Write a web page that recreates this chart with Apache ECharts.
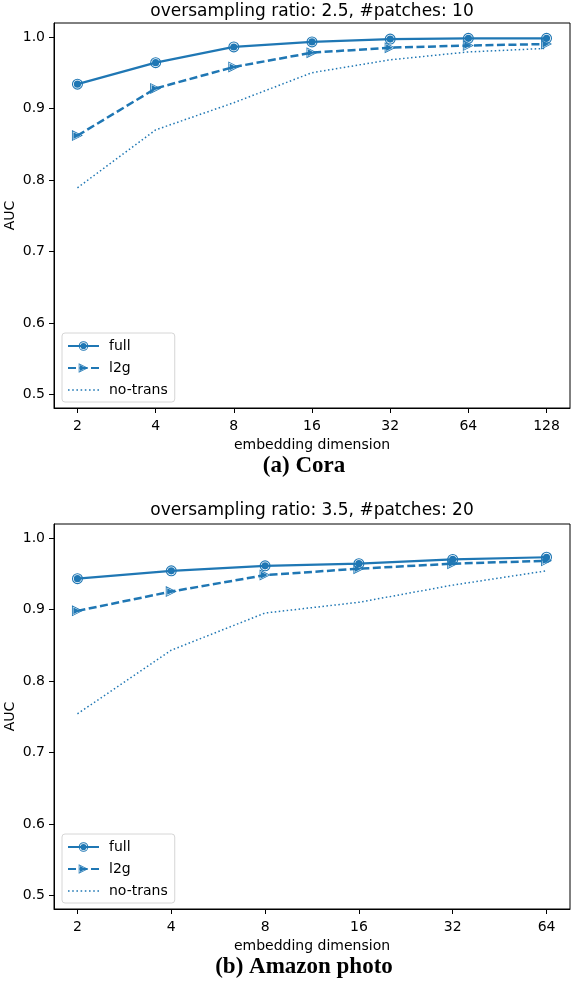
<!DOCTYPE html>
<html>
<head>
<meta charset="utf-8">
<script src="https://cdn.jsdelivr.net/npm/echarts@6/dist/echarts.min.js"></script>
<style>
    html, body {margin: 0; padding: 0; background: #fff;}
    #main {width: 574px; height: 982px;}
</style>
</head>
<body>
<div id="main"></div>
<script>
//数据
var dimsCora = ['2', '4', '8', '16', '32', '64', '128'];
var coraFull = [0.934, 0.964, 0.986, 0.993, 0.997, 0.998, 0.998];
var coraL2g = [0.862, 0.928, 0.958, 0.978, 0.985, 0.988, 0.990];
var coraNoTrans = [0.789, 0.870, 0.908, 0.950, 0.968, 0.979, 0.984];

var dimsPhoto = ['2', '4', '8', '16', '32', '64'];
var photoFull = [0.943, 0.954, 0.961, 0.964, 0.970, 0.973];
var photoL2g = [0.898, 0.925, 0.948, 0.957, 0.964, 0.968];
var photoNoTrans = [0.754, 0.843, 0.895, 0.910, 0.934, 0.954];

var aucTicks = [0.5, 0.6, 0.7, 0.8, 0.9, 1.0];

var blue = '#1f77b4';
var sans = 'DejaVu Sans';

//marker paths: filled circle with a thin light ring, right triangle with a thin light outline inside
var circleMark = 'path://M0,10 A10,10 0 1,1 20,10 A10,10 0 1,1 0,10 Z' +
    'M2,10 A8,8 0 1,0 18,10 A8,8 0 1,0 2,10 Z' +
    'M3.5,10 A6.5,6.5 0 1,1 16.5,10 A6.5,6.5 0 1,1 3.5,10 Z';
var triMark = 'path://M0,0 L20,10 L0,20 Z M1.6,2.5 L1.6,17.5 L16.8,10 Z M2.6,4 L14.8,10 L2.6,16 Z';
//legend icon for the dotted line
var dotIcon = 'path://M0,0h1.5v1.5h-1.5z M4,0h1.5v1.5h-1.5z M8,0h1.5v1.5h-1.5z M12,0h1.5v1.5h-1.5z' +
    'M16,0h1.5v1.5h-1.5z M20,0h1.5v1.5h-1.5z M24,0h1.5v1.5h-1.5z M28,0h1.5v1.5h-1.5z';

function toPoints(vals){
    var pts = [];
    for (var i = 0; i < vals.length; i++) {
        pts.push([i, vals[i]]);
    }
    return pts;
}

function indexList(n){
    var arr = [];
    for (var i = 0; i < n; i++) arr.push(i);
    return arr;
}

function makeX(gridIndex, dims){
    var pad = (dims.length - 1) * 0.05;
    return {
        type: 'value',
        gridIndex: gridIndex,
        min: -pad,
        max: dims.length - 1 + pad,
        name: 'embedding dimension',
        nameLocation: 'middle',
        nameGap: 30,
        nameMoveOverlap: false,
        nameTextStyle: {fontFamily: sans, fontSize: 14, color: '#000'},
        splitLine: {show: false},
        axisLine: {show: true, onZero: false, lineStyle: {color: '#000', width: 1}},
        axisTick: {show: true, length: 5, lineStyle: {color: '#000', width: 1}, customValues: indexList(dims.length)},
        axisLabel: {
            margin: 11, fontFamily: sans, fontSize: 14, color: '#000',
            customValues: indexList(dims.length),
            formatter: function (v){ return dims[Math.round(v)]; }
        }
    };
}

function makeY(gridIndex){
    return {
        type: 'value',
        gridIndex: gridIndex,
        min: 0.481,
        max: 1.0195,
        name: 'AUC',
        nameLocation: 'middle',
        nameGap: 37,
        nameMoveOverlap: false,
        nameTextStyle: {fontFamily: sans, fontSize: 14, color: '#000'},
        splitLine: {show: false},
        axisLine: {show: true, onZero: false, lineStyle: {color: '#000', width: 1}},
        axisTick: {show: true, length: 5, lineStyle: {color: '#000', width: 1}, customValues: aucTicks},
        axisLabel: {
            margin: 9, fontFamily: sans, fontSize: 14, color: '#000',
            customValues: aucTicks,
            formatter: function (v){ return v.toFixed(1); }
        }
    };
}

function makeSeries(idx, full, l2g, noTrans){
    return [
        {
            name: 'full', type: 'line', xAxisIndex: idx, yAxisIndex: idx,
            data: toPoints(full),
            symbol: circleMark, symbolSize: 11, symbolKeepAspect: true,
            itemStyle: {color: blue},
            lineStyle: {color: blue, width: 2.2, type: 'solid'},
            animation: false, z: 3
        },
        {
            name: 'l2g', type: 'line', xAxisIndex: idx, yAxisIndex: idx,
            data: toPoints(l2g),
            symbol: triMark, symbolSize: 11, symbolKeepAspect: true,
            itemStyle: {color: blue},
            lineStyle: {color: blue, width: 2.5, type: [8, 3.5]},
            animation: false, z: 4
        },
        {
            name: 'no-trans', type: 'line', xAxisIndex: idx, yAxisIndex: idx,
            data: toPoints(noTrans),
            symbol: 'none',
            itemStyle: {color: blue},
            lineStyle: {color: blue, width: 1.5, type: [1.5, 2.5]},
            animation: false, z: 5
        }
    ];
}

function makeLegend(top){
    return {
        left: 62, top: top,
        orient: 'vertical',
        data: ['full', 'l2g', {name: 'no-trans', icon: dotIcon}],
        itemWidth: 31, itemHeight: 12, itemGap: 8,
        padding: [6, 7, 5, 5],
        backgroundColor: '#fff',
        borderColor: '#d6d6d6', borderWidth: 1, borderRadius: 3,
        selectedMode: false,
        textStyle: {fontFamily: sans, fontSize: 14, color: '#000', padding: [0, 0, 0, 5]}
    };
}

var myChart = echarts.init(document.getElementById('main'), null, {renderer: 'canvas'});

option = {
    backgroundColor: '#fff',
    title: [
        {text: 'oversampling ratio: 2.5, #patches: 10', left: 312, top: 3, textAlign: 'center', padding: 0,
            textStyle: {fontFamily: sans, fontSize: 17, fontWeight: 'normal', color: '#000'}},
        {text: '(a) Cora', left: 304, top: 455, textAlign: 'center', padding: 0,
            textStyle: {fontFamily: 'Liberation Serif', fontSize: 23, fontWeight: 'bold', color: '#000'}},
        {text: 'oversampling ratio: 3.5, #patches: 20', left: 312, top: 502, textAlign: 'center', padding: 0,
            textStyle: {fontFamily: sans, fontSize: 17, fontWeight: 'normal', color: '#000'}},
        {text: '(b) Amazon photo', left: 304, top: 956, textAlign: 'center', padding: 0,
            textStyle: {fontFamily: 'Liberation Serif', fontSize: 23, fontWeight: 'bold', color: '#000'}}
    ],
    legend: [makeLegend(333), makeLegend(834)],
    grid: [
        {left: 54, top: 23, width: 516, height: 385, outerBoundsMode: 'none', show: true, borderColor: '#000', borderWidth: 1, backgroundColor: 'transparent'},
        {left: 54, top: 524, width: 516, height: 385, outerBoundsMode: 'none', show: true, borderColor: '#000', borderWidth: 1, backgroundColor: 'transparent'}
    ],
    xAxis: [makeX(0, dimsCora), makeX(1, dimsPhoto)],
    yAxis: [makeY(0), makeY(1)],
    series: makeSeries(0, coraFull, coraL2g, coraNoTrans).concat(makeSeries(1, photoFull, photoL2g, photoNoTrans))
};
myChart.setOption(option);
</script>
</body>
</html>
